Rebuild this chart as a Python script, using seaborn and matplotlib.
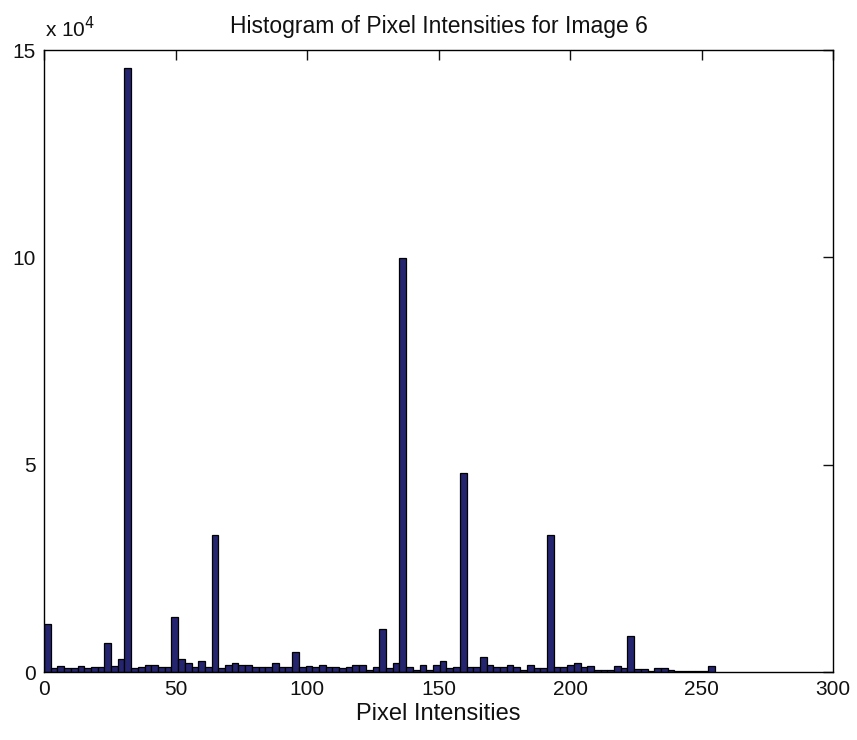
import numpy as np
import pandas as pd
import matplotlib
matplotlib.use('Agg')
import matplotlib.pyplot as plt
from matplotlib.ticker import FuncFormatter
import seaborn as sns

# Histogram counts, 100 bins over 0..255
counts = [
    11500, 1000, 1400, 900, 900, 1400, 1000, 1300, 1300, 7100,
    1400, 3200, 145700, 900, 1300, 1800, 1800, 1300, 1300, 13300,
    3200, 2250, 1300, 2650, 1300, 33000, 900, 1700, 2200, 1700,
    1700, 1300, 1300, 1300, 2200, 1300, 1300, 4800, 1300, 1400,
    1300, 1800, 1300, 1300, 900, 1300, 1800, 1800, 500, 1300,
    10300, 900, 2250, 99800, 1300, 600, 1800, 600, 1800, 2650,
    900, 1300, 48000, 1300, 1300, 3600, 1800, 1300, 1300, 1800,
    1300, 600, 1800, 900, 900, 33000, 1300, 1300, 1800, 2250,
    1300, 1400, 600, 600, 600, 1400, 1000, 8800, 800, 800,
    250, 1000, 1000, 500, 300, 200, 200, 200, 200, 1400,
]
n_bins = len(counts)
intensity_min, intensity_max = 0, 255
x_ticks = [0, 50, 100, 150, 200, 250, 300]
y_ticks = [0, 50000, 100000, 150000]

edges = np.linspace(intensity_min, intensity_max, n_bins + 1)
df = pd.DataFrame({'intensity': (edges[:-1] + edges[1:]) / 2,
                   'count': counts})

sns.set_style('white')
plt.rcParams['font.family'] = ['Liberation Sans', 'DejaVu Sans']

fig = plt.figure(figsize=(8.57, 7.40), dpi=100)
ax = fig.add_axes([44 / 857, 68 / 740, 789 / 857, 622 / 740])

sns.histplot(data=df, x='intensity', weights='count', bins=n_bins,
             binrange=(intensity_min, intensity_max), ax=ax,
             color='#24246f', edgecolor='black', linewidth=0.9, alpha=1.0)

ax.set_xlim(0, 300)
ax.set_ylim(0, 150000)
ax.set_xticks(x_ticks)
ax.set_yticks(y_ticks)
ax.yaxis.set_major_formatter(FuncFormatter(lambda v, p: f'{v / 1e4:g}'))
ax.tick_params(direction='in', top=True, right=True, length=7, width=1,
               labelsize=15, pad=6, colors='#111111')
for s in ax.spines.values():
    s.set_visible(True)
    s.set_color('black')
    s.set_linewidth(1)

ax.set_ylabel('')
ax.set_xlabel('Pixel Intensities', fontsize=17, labelpad=3, color='#111111')
ax.set_title('Histogram of Pixel Intensities for Image 6', fontsize=16.5,
             pad=12, color='#111111')
ax.text(0.001, 1.014, r'x 10$^{4}$', transform=ax.transAxes, fontsize=15,
        ha='left', va='bottom', color='#111111')

fig.savefig('out.png', dpi=100, facecolor='white')
